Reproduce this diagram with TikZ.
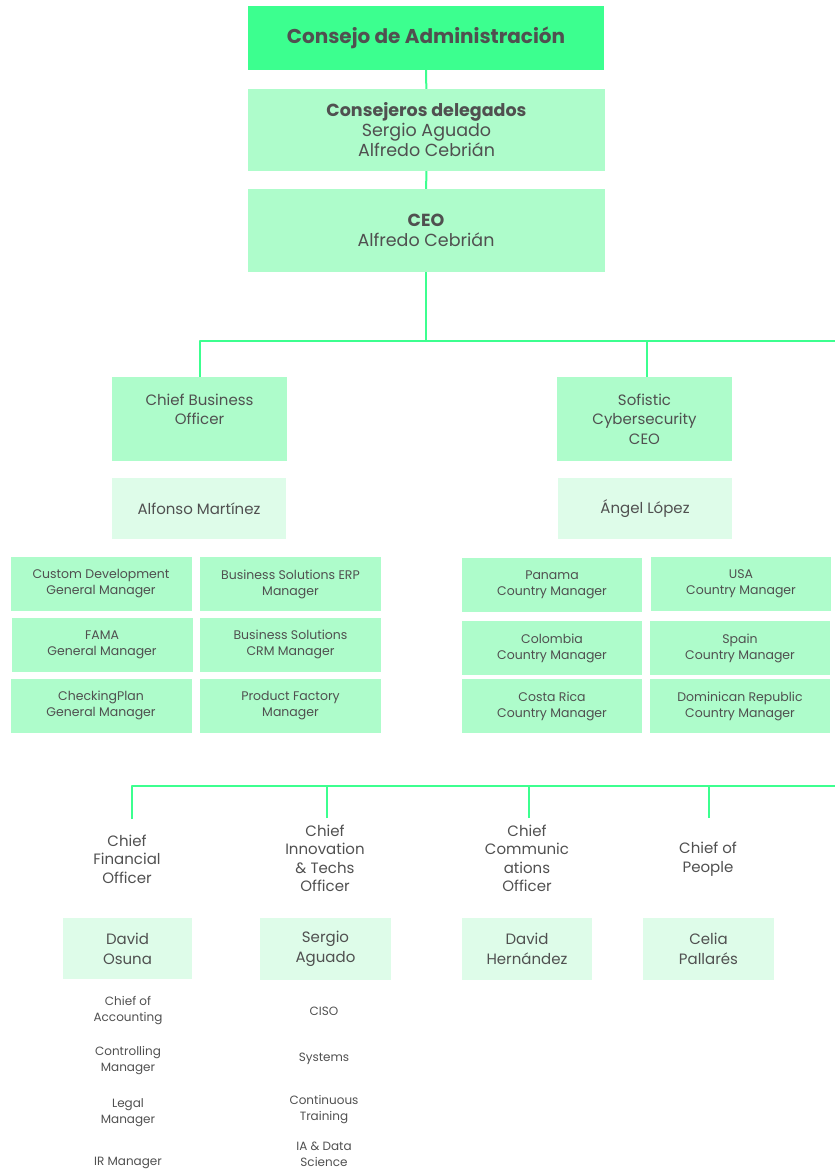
\documentclass[tikz,border=0pt]{standalone}
\usepackage{fontspec}
\setmainfont{Poppins}
\usepackage{tikz}
\usepackage{xcolor}
\usetikzlibrary{positioning, calc}

\definecolor{topgreen}{HTML}{3CFF8F}
\definecolor{midgreen}{HTML}{AEFCCB}
\definecolor{palegreen}{HTML}{DEFCE9}
\definecolor{txtgray}{HTML}{505050}

\begin{document}
\begin{tikzpicture}[x=1pt, y=-1pt, line join=round,
    every node/.style={text=txtgray, inner sep=0pt, align=center},
    board/.style={fill=topgreen, minimum width=356, minimum height=64, font=\fontsize{20}{22}\selectfont\bfseries},
    headbox/.style={fill=midgreen, minimum width=357, minimum height=83, font=\fontsize{17.5}{20}\selectfont},
    chiefbox/.style={fill=midgreen, minimum width=175, minimum height=84, font=\fontsize{15}{19.5}\selectfont},
    namebox/.style={fill=palegreen, minimum width=174, minimum height=61, font=\fontsize{15}{20}\selectfont},
    unitbox/.style={fill=midgreen, minimum width=181, minimum height=54, font=\fontsize{12.5}{16}\selectfont},
    chieftitle/.style={font=\fontsize{15}{18.5}\selectfont},
    personbox/.style={fill=palegreen, minimum width=130, minimum height=62, font=\fontsize{15}{20}\selectfont},
    subitem/.style={font=\fontsize{12}{16}\selectfont},
    conn/.style={draw=topgreen, line width=2pt}]
    \useasboundingbox (0,0) rectangle (835,1171);
    % Direccion
    \node[board] (consejo) at (426,38) {Consejo de Administración};
    \node[headbox, minimum height=82] (delegados) at (426.5,130) {{\bfseries Consejeros delegados}\\Sergio Aguado\\Alfredo Cebrián};
    \node[headbox] (ceo) at (426,230.5) {{\bfseries CEO}\\Alfredo Cebrián};
    \draw[conn] (consejo) -- (delegados);
    \draw[conn] (delegados) -- (ceo);
    % Primer nivel
    \coordinate (busA) at (835,341);
    \node[chiefbox] (cbo) at (199.5,419) {Chief Business\\Officer\\~};
    \node[namebox] (alfonso) at (199,508.5) {Alfonso Martínez};
    \node[chiefbox] (sofistic) at (644.5,419) {Sofistic\\Cybersecurity\\CEO};
    \node[namebox] (angel) at (645,508.5) {Ángel López};
    \coordinate (sofTop) at (647,377);
    \draw[conn] (ceo.south) -- (ceo.south |- busA);
    \draw[conn] (cbo.north) -- (cbo.north |- busA) -- (busA);
    \draw[conn] (sofTop) -- (sofTop |- busA);
    % Areas de negocio
    \node[unitbox] (customdev) at (101,584) {Custom Development\\General Manager};
    \node[unitbox] (fama) at (102,645) {FAMA\\General Manager};
    \node[unitbox] (checking) at (101,705.5) {CheckingPlan\\General Manager};
    \node[unitbox] (erp) at (290.5,584) {Business Solutions ERP\\Manager};
    \node[unitbox] (crm) at (290.5,644.5) {Business Solutions\\CRM Manager};
    \node[unitbox] (factory) at (290.5,705.5) {Product Factory\\Manager};
    % Paises
    \node[unitbox, minimum width=180] (panama) at (552,584.5) {Panama\\Country Manager};
    \node[unitbox, minimum width=180] (colombia) at (552,648) {Colombia\\Country Manager};
    \node[unitbox, minimum width=180] (costarica) at (552,706) {Costa Rica\\Country Manager};
    \node[unitbox, minimum width=180] (usa) at (741,583.5) {USA\\Country Manager};
    \node[unitbox, minimum width=180] (spain) at (740,648) {Spain\\Country Manager};
    \node[unitbox, minimum width=180] (dominican) at (740,706) {Dominican Republic\\Country Manager};
    % Segundo nivel
    \coordinate (busB) at (835,786);
    \coordinate (cfoTop) at (132,819);
    \coordinate (citoTop) at (327,818);
    \coordinate (ccoTop) at (529,818);
    \coordinate (cpoTop) at (709,818);
    \draw[conn] (cfoTop) -- (cfoTop |- busB) -- (busB);
    \draw[conn] (citoTop) -- (citoTop |- busB);
    \draw[conn] (ccoTop) -- (ccoTop |- busB);
    \draw[conn] (cpoTop) -- (cpoTop |- busB);
    \node[chieftitle] (cfo) at (127,859) {Chief\\Financial\\Officer};
    \node[chieftitle] (cito) at (325,858.5) {Chief\\Innovation\\\& Techs\\Officer};
    \node[chieftitle] (cco) at (527,858.5) {Chief\\Communic\\ations\\Officer};
    \node[chieftitle] (cpo) at (708,859) {Chief of\\People};
    \node[personbox, minimum width=129, minimum height=61] (osuna) at (127.5,948.5) {David\\Osuna};
    \node[personbox, minimum width=131] (aguado) at (325.5,949) {Sergio\\Aguado};
    \node[personbox] (hernandez) at (527,949) {David\\Hernández};
    \node[personbox, minimum width=131] (pallares) at (708.5,949) {Celia\\Pallarés};
    % Equipos
    \node[subitem] (accounting) at (128,1011) {Chief of\\Accounting};
    \node[subitem] (controlling) at (128,1061) {Controlling\\Manager};
    \node[subitem] (legal) at (128,1112.5) {Legal\\Manager};
    \node[subitem] (irm) at (128,1163) {IR Manager};
    \node[subitem] (ciso) at (324,1011) {CISO};
    \node[subitem] (systems) at (324,1059) {Systems};
    \node[subitem] (training) at (324,1109.5) {Continuous\\Training};
    \node[subitem] (datasci) at (324,1154) {IA \& Data\\Science};
\end{tikzpicture}
\end{document}
